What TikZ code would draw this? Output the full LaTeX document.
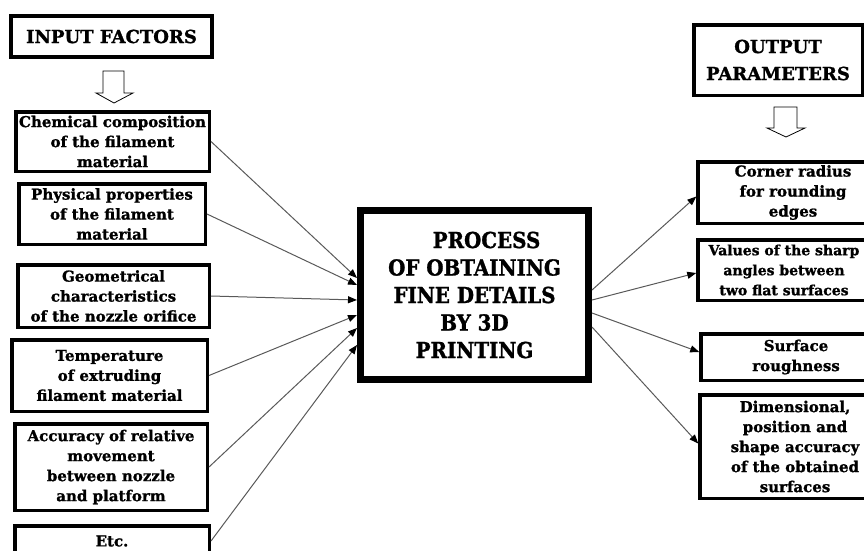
\documentclass[tikz,border=0pt]{standalone}
\usepackage{fontspec}
\setmainfont{DejaVu Serif}[BoldFeatures={FakeBold=1.2}]
\newfontfamily\condfont{DejaVu Serif Condensed}[BoldFeatures={FakeBold=1.2}]
\usetikzlibrary{arrows.meta, positioning, calc}

\begin{document}
\begin{tikzpicture}[x=1pt, y=-1pt,
  factor/.style={draw, line width=3.5pt, inner sep=0pt, align=center,
    font=\bfseries\fontsize{15}{20}\selectfont},
  headbox/.style={draw, line width=3.5pt, inner sep=0pt, align=center,
    font=\bfseries\fontsize{18}{27}\selectfont},
  link/.style={-{Triangle[length=9pt,width=7pt,black]}, draw=black!65, line width=1pt}]
\useasboundingbox (0,0) rectangle (864,550);
\clip (0,0) rectangle (864,550);

% input side
\node[headbox, minimum width=201, minimum height=41] (inhead) at (111.5,36.5) {INPUT FACTORS};
\draw[line width=0.8pt, fill=white] (103,71) -- (124,71) -- (124,93) -- (133,93)
  -- (114,103) -- (96,93) -- (103,93) -- cycle;

\node[factor, minimum width=193.5, minimum height=59.5] (chem) at (112.5,141.5)
  {Chemical composition\\of the filament\\material};
\node[factor, minimum width=186.5, minimum height=60.5] (phys) at (112,214)
  {Physical properties\\of the filament\\material};
\node[factor, minimum width=191.5, minimum height=62.5] (geom) at (113.5,296)
  {Geometrical\\characteristics\\of the nozzle orifice};
\node[factor, minimum width=195.5, minimum height=71.5] (temp) at (109.5,375.5)
  {Temperature\\of extruding\\filament material};
\node[factor, minimum width=192.5, minimum height=86.5] (move) at (111,467)
  {Accuracy of relative\\movement\\between nozzle\\and platform};
\node[factor, minimum width=194.5, minimum height=30] (etc) at (112,541)
  {Etc.};

% process
\node[draw, line width=7pt, inner sep=0pt, minimum width=228, minimum height=169,
  align=center, font=\condfont\bfseries\fontsize{22}{27.5}\selectfont] (proc) at (474.5,295)
  {\hspace*{24pt}PROCESS\\OF OBTAINING\\FINE DETAILS\\BY 3D\\PRINTING};

% output side
\node[headbox, minimum width=168.5, minimum height=70.5] (outhead) at (778,60)
  {OUTPUT\\PARAMETERS};
\draw[line width=0.8pt, fill=white] (774,107) -- (797,107) -- (797,128) -- (805,128)
  -- (786,137) -- (767,128) -- (774,128) -- cycle;

\node[factor, minimum width=190, minimum height=61.5] (radius) at (793,192.5)
  {Corner radius\\for rounding\\edges};
\node[factor, minimum width=172, minimum height=60.5, font=\bfseries\fontsize{14}{20}\selectfont]
  (angles) at (784,270)
  {Values of the sharp\\angles between\\two flat surfaces};
\node[factor, minimum width=190, minimum height=46.5] (rough) at (796,357)
  {Surface\\roughness};
\node[factor, minimum width=190, minimum height=103.5] (accur) at (795,446.5)
  {Dimensional,\\position and\\shape accuracy\\of the obtained\\surfaces};

% connectors
\draw[link] (chem.east) -- ([yshift=17pt]proc.west);
\draw[link] (phys.east) -- ([yshift=10pt]proc.west);
\draw[link] (geom.east) -- ([yshift=-5pt]proc.west);
\draw[link] (temp.east) -- ([yshift=-20pt]proc.west);
\draw[link] (move.east) -- ([yshift=-33pt]proc.west);
\draw[link] (etc.east) -- ([yshift=-50pt]proc.west);

\draw[link] ([yshift=5pt]proc.east) -- ([yshift=-4pt]radius.west);
\draw[link] ([yshift=-5pt]proc.east) -- ([yshift=-3pt]angles.west);
\draw[link] ([yshift=-18pt]proc.east) -- ([yshift=5pt]rough.west);
\draw[link] ([yshift=-32pt]proc.east) -- ([yshift=3pt]accur.west);
\end{tikzpicture}
\end{document}
